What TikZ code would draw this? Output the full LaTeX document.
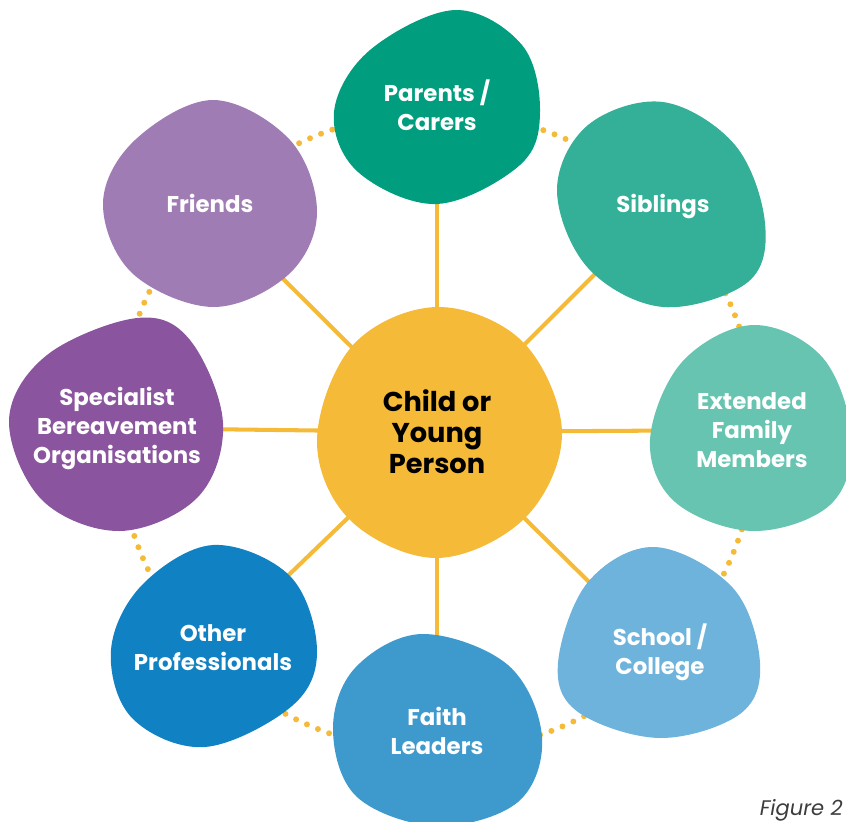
\documentclass[tikz,border=0pt]{standalone}
\usepackage{fontspec}
\setmainfont{Poppins}
\definecolor{cypyellow}{RGB}{245,186,55}
\definecolor{parentsgreen}{RGB}{0,158,126}
\definecolor{siblingsgreen}{RGB}{51,176,151}
\definecolor{familygreen}{RGB}{102,196,177}
\definecolor{schoolblue}{RGB}{109,179,219}
\definecolor{faithblue}{RGB}{62,154,205}
\definecolor{otherblue}{RGB}{16,129,194}
\definecolor{specialistpurple}{RGB}{138,85,158}
\definecolor{friendspurple}{RGB}{160,124,181}
\definecolor{figgray}{RGB}{60,60,60}

\begin{document}
\begin{tikzpicture}[x=0.02cm,y=-0.02cm,
    every node/.style={font=\bfseries\fontsize{13}{16.5}\selectfont,text=white,align=center},
    spoke/.style={draw=cypyellow,line width=2.3pt},
    ring/.style={draw=cypyellow,line width=3.4pt,line cap=round,dash pattern=on 0pt off 6.8pt},
    blob/.style={smooth cycle,tension=0.6}]
    \useasboundingbox (0,0) rectangle (846,822);
    % centres of the circle
    \coordinate (cyp) at (437,432);
    \coordinate (parents) at (437,112);
    \coordinate (siblings) at (663,206);
    \coordinate (family) at (752,430);
    \coordinate (school) at (660,652);
    \coordinate (faith) at (437,735);
    \coordinate (other) at (213,648);
    \coordinate (specialist) at (117,428);
    \coordinate (friends) at (210,206);
    \draw[ring] (cyp) circle (6.4cm);
    \foreach \b in {parents,siblings,family,school,faith,other,specialist,friends}
        \draw[spoke] (cyp) -- (\b);
    % blobs
    \fill[parentsgreen] plot[blob] coordinates {(540,112) (522,45) (455,10) (370,50) (334,112) (358,172) (437,204) (520,165)};
    \fill[siblingsgreen] plot[blob] coordinates {(765,223) (735,145) (663,102) (588,125) (557,190) (588,268) (663,307) (748,282)};
    \fill[familygreen] plot[blob] coordinates {(852,440) (823,358) (753,325) (682,362) (650,440) (675,502) (753,531) (830,505)};
    \fill[schoolblue] plot[blob] coordinates {(760,663) (733,588) (655,547) (588,582) (558,663) (578,712) (660,738) (740,714)};
    \fill[faithblue] plot[blob] coordinates {(542,737) (508,665) (422,634) (355,668) (333,730) (357,797) (437,826) (518,802)};
    \fill[otherblue] plot[blob] coordinates {(317,650) (290,576) (213,545) (142,585) (111,650) (132,718) (205,747) (292,706)};
    \fill[specialistpurple] plot[blob] coordinates {(223,423) (190,340) (137,318) (47,355) (9,420) (42,500) (120,531) (198,497)};
    \fill[friendspurple] plot[blob] coordinates {(317,213) (290,140) (213,100) (135,140) (103,203) (132,273) (213,307) (288,275)};
    \fill[cypyellow] plot[blob] coordinates {(562,433) (523,342) (437,307) (353,345) (317,440) (350,520) (437,558) (525,518)};
    % labels
    \node (cyptext) at (cyp) [text=black,font=\bfseries\fontsize{15.5}{17.6}\selectfont] {Child or\\Young\\Person};
    \node (parentstext) at (437,105) {Parents /\\Carers};
    \node (siblingstext) at (siblings) {Siblings};
    \node (familytext) at (family) {Extended\\Family\\Members};
    \node (schooltext) at (school) {School /\\College};
    \node (faithtext) at (437,731) {Faith\\Leaders};
    \node (othertext) at (other) {Other\\Professionals};
    \node (specialisttext) at (specialist) {Specialist\\Bereavement\\Organisations};
    \node (friendstext) at (210,203) {Friends};
    \node (figlabel) at (843,815) [anchor=base east,inner sep=0pt,text=figgray,font=\itshape\fontsize{12}{13}\selectfont] {Figure 2};
\end{tikzpicture}
\end{document}
